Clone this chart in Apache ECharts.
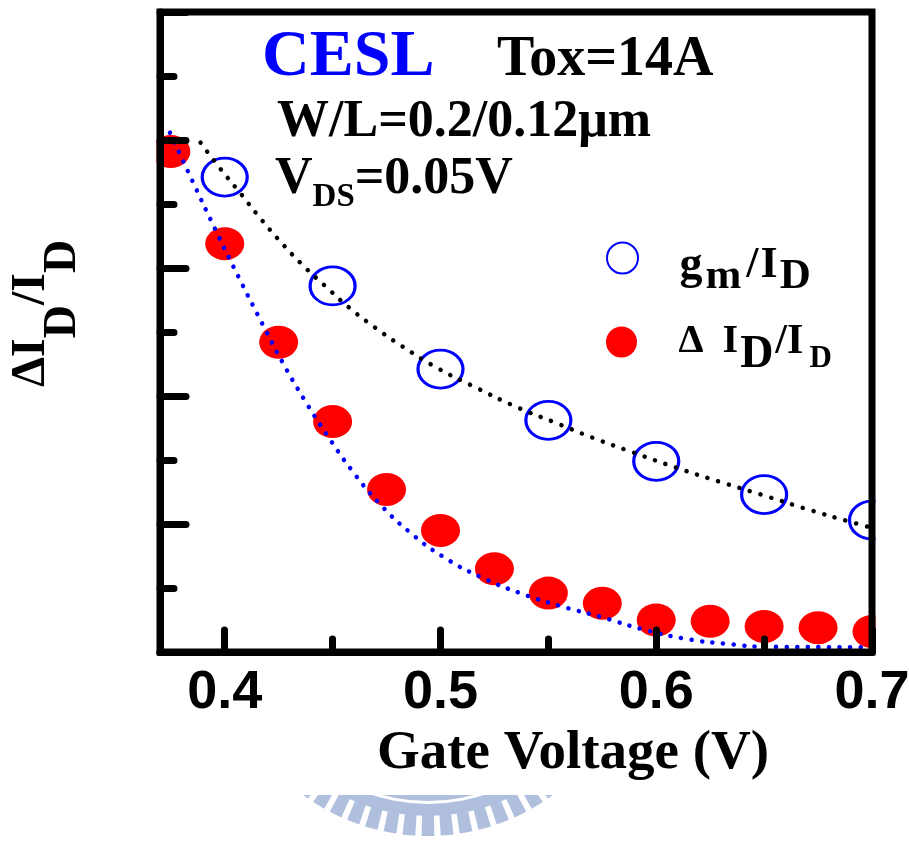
<!DOCTYPE html>
<html>
<head>
<meta charset="utf-8">
<script src="https://cdn.jsdelivr.net/npm/echarts@6/dist/echarts.min.js"></script>
<style>
html,body{margin:0;padding:0;background:#fff;}
#chart{width:909px;height:841px;}
</style>
</head>
<body>
<div id="chart"></div>
<script>
// ---- data ----
const vgOpen = [0.40, 0.45, 0.50, 0.55, 0.60, 0.65, 0.70];
const gmOverId = [3.71, 2.86, 2.21, 1.81, 1.49, 1.23, 1.03];

const vgFilled = [0.375, 0.400, 0.425, 0.450, 0.475, 0.500, 0.525, 0.550, 0.575, 0.600, 0.625, 0.650, 0.675, 0.700];
const dIdOverId = [3.91, 3.19, 2.42, 1.80, 1.27, 0.95, 0.65, 0.46, 0.38, 0.25, 0.24, 0.20, 0.19, 0.16];

// dotted fit curves
const blackFitX = [0.3888, 0.3978, 0.4070, 0.4163, 0.4260, 0.4361, 0.4469, 0.4583, 0.4700, 0.4820, 0.4988, 0.5162, 0.5342, 0.5524, 0.5706, 0.5891, 0.6132, 0.6326, 0.6512, 0.6707, 0.6893, 0.7000];
const blackFitY = [3.979, 3.779, 3.589, 3.393, 3.203, 3.023, 2.854, 2.682, 2.531, 2.391, 2.216, 2.068, 1.922, 1.797, 1.674, 1.560, 1.418, 1.313, 1.216, 1.112, 1.020, 0.970];
const blueFitX = [0.3746, 0.3851, 0.3956, 0.4064, 0.4177, 0.4268, 0.4368, 0.4475, 0.4588, 0.4714, 0.4856, 0.5016, 0.5189, 0.5371, 0.5561, 0.5750, 0.5938, 0.6134, 0.6330, 0.6524, 0.6918, 0.7000];
const blueFitY = [4.057, 3.677, 3.302, 2.930, 2.555, 2.263, 1.974, 1.693, 1.422, 1.166, 0.938, 0.740, 0.584, 0.459, 0.357, 0.271, 0.177, 0.104, 0.063, 0.041, 0.038, 0.038];

const xMajorTicks = [0.4, 0.5, 0.6, 0.7];
const xMinorTicks = [0.45, 0.55, 0.65];
const xRange = [0.37, 0.70];
const yRange = [0, 5];

const seriesNames = ['gm/ID', 'ΔID/ID'];
const xTitle = 'Gate Voltage (V)';

const SERIF = "'Times New Roman', 'Liberation Serif', serif";
const SANS = "'Liberation Sans', Arial, sans-serif";

const zip = (a, b) => a.map((v, i) => [v, b[i]]);

const chart = echarts.init(document.getElementById('chart'), null, {renderer: 'canvas'});

const bold = (size, extra) => Object.assign({fontSize: size, fontWeight: 'bold', fontFamily: SERIF, color: '#000'}, extra || {});
// rich token with a fixed 60px box; shift > 0 moves the glyphs down (subscript)
const tok = (size, shift, left) => {
  const s2 = Math.round(Math.abs(shift) * 2);
  return bold(size, {lineHeight: 60, height: 60 - s2,
    padding: shift >= 0 ? [s2, 0, 0, left || 0] : [0, 0, s2, left || 0]});
};

// grid box in pixels
const G = {left: 160, right: 37, top: 12, bottom: 189};
const W = 909, H = 841;

// faded logo watermark under the axis title (decoration)
const WM = '#b1bfdf';
const wmCx = 428, wmCy = 625;
const decorations = [
  {type: 'sector', z: -10, silent: true, shape: {cx: wmCx, cy: wmCy, r0: 160, r: 176, startAngle: Math.PI / 2 - 0.75, endAngle: Math.PI / 2 + 0.75}, style: {fill: WM}},
  {type: 'sector', z: -10, silent: true, shape: {cx: wmCx, cy: wmCy, r0: 179, r: 191, startAngle: Math.PI / 2 - 0.75, endAngle: Math.PI / 2 + 0.75}, style: {fill: WM}}
];
for (let k = -7; k <= 7; k++) {
  const a = Math.PI / 2 + k * 5.2 * Math.PI / 180;
  const hw = 1.75 * Math.PI / 180;
  decorations.push({type: 'sector', z: -10, silent: true,
    shape: {cx: wmCx, cy: wmCy, r0: 188, r: 211, startAngle: a - hw, endAngle: a + hw}, style: {fill: WM}});
}
decorations.push({type: 'rect', z: -9, silent: true, shape: {x: 250, y: 700, width: 360, height: 95}, style: {fill: '#fff'}});
// white masks so markers are cut at the frame, as in the reference
decorations.push({type: 'rect', z: 4, silent: true, shape: {x: 0, y: 0, width: G.left - 3.5, height: H - G.bottom + 6}, style: {fill: '#fff'}});
decorations.push({type: 'rect', z: 4, silent: true, shape: {x: W - G.right + 3.5, y: 0, width: G.right, height: H - G.bottom + 6}, style: {fill: '#fff'}});

const legendBase = (name, top, fmt, rich) => ({
  data: [name],
  orient: 'vertical',
  left: 606, top: top,
  padding: 0,
  itemWidth: 36, itemHeight: 31,
  symbolKeepAspect: false,
  selectedMode: false,
  formatter: () => fmt,
  textStyle: {padding: [0, 0, 0, 34], rich: rich}
});

const option = {
  animation: false,
  backgroundColor: '#fff',
  grid: {
    left: G.left, right: G.right, top: G.top, bottom: G.bottom,
    containLabel: false, outerBoundsMode: 'none', z: 10,
    show: true, borderColor: '#000', borderWidth: 7, backgroundColor: 'transparent'
  },
  xAxis: [
    {
      type: 'value', min: xRange[0], max: xRange[1], position: 'bottom', z: 10,
      axisLine: {show: true, onZero: false, lineStyle: {color: '#000', width: 7, cap: 'round'}},
      axisTick: {show: true, inside: true, length: 22, customValues: xMajorTicks, lineStyle: {color: '#000', width: 7, cap: 'round'}},
      axisLabel: {show: true, customValues: xMajorTicks, margin: 13, formatter: v => v.toFixed(1),
        fontSize: 54, fontWeight: 'bold', fontFamily: SANS, color: '#000', lineHeight: 56},
      splitLine: {show: false},
      name: xTitle, nameLocation: 'middle', nameGap: 66,
      nameTextStyle: {fontSize: 55, fontWeight: 'bold', fontFamily: SERIF, color: '#000', lineHeight: 54, padding: [0, 0, 0, 114]}
    },
    {
      type: 'value', min: xRange[0], max: xRange[1], position: 'bottom', z: 10,
      axisLine: {show: false},
      axisTick: {show: true, inside: true, length: 13, customValues: xMinorTicks, lineStyle: {color: '#000', width: 7, cap: 'round'}},
      axisLabel: {show: false},
      splitLine: {show: false}
    }
  ],
  yAxis: {
    type: 'value', min: yRange[0], max: yRange[1], interval: 1, z: 10,
    axisLine: {show: true, onZero: false, lineStyle: {color: '#000', width: 7, cap: 'round'}},
    axisTick: {show: true, inside: true, length: 26, lineStyle: {color: '#000', width: 7, cap: 'round'}},
    minorTick: {show: true, splitNumber: 2, length: 14, lineStyle: {color: '#000', width: 7, cap: 'round'}},
    axisLabel: {show: false},
    splitLine: {show: false},
    name: '{m|ΔI}{s|D}{m|/I}{s|D}',
    nameLocation: 'middle', nameGap: 93,
    nameTextStyle: {
      padding: [0, 0, 0, 37],
      rich: {
        m: bold(48, {lineHeight: 70}),
        s: bold(46, {lineHeight: 70, padding: [62, 0, 0, 0]})
      }
    }
  },
  legend: [
    legendBase(seriesNames[0], 228, '{g1|g}{m1|m}{s1|/}{i1|I}{d1|D}', {
      g1: tok(46, 8, 0),
      m1: tok(43, 19, 3),
      s1: tok(44, 8, 5),
      i1: tok(44, 8, 2),
      d1: tok(43, 19, 2)
    }),
    legendBase(seriesNames[1], 312, '{d2|Δ}{i2|I}{b2|D}{s2|/}{j2|I}{c2|D}', {
      d2: tok(40, 0, 0),
      i2: tok(40, 0, 19),
      b2: tok(46, 13, 2),
      s2: tok(42, 0, 2),
      j2: tok(42, 0, 0),
      c2: tok(31, 17, 6)
    })
  ],
  graphic: [
    {type: 'text', x: 262, y: 58, style: {text: 'CESL', align: 'left', verticalAlign: 'middle',
      fontSize: 66, fontWeight: 'bold', fontFamily: SERIF, fill: '#0000ff'}},
    {type: 'text', x: 497, y: 61, style: {text: 'Tox=14A', align: 'left', verticalAlign: 'middle',
      fontSize: 56, fontWeight: 'bold', fontFamily: SERIF, fill: '#000'}},
    {type: 'text', x: 277, y: 123, style: {text: 'W/L=0.2/0.12μm', align: 'left', verticalAlign: 'middle',
      fontSize: 52, fontWeight: 'bold', fontFamily: SERIF, fill: '#000'}},
    {type: 'text', x: 275, y: 180, style: {text: '{n|V}{s|DS}{n|=0.05V}', align: 'left', verticalAlign: 'middle',
      rich: {
        n: {fontSize: 52, fontWeight: 'bold', fontFamily: SERIF, fill: '#000', lineHeight: 60},
        s: {fontSize: 33, fontWeight: 'bold', fontFamily: SERIF, fill: '#000', lineHeight: 60, padding: [34, 0, 0, 0]}
      }}}
  ].concat(decorations),
  series: [
    {
      name: seriesNames[0], type: 'scatter', xAxisIndex: 0,
      data: zip(vgOpen, gmOverId),
      symbol: 'circle', symbolSize: [45, 38],
      itemStyle: {color: 'rgba(255,255,255,0)', borderColor: '#0000ff', borderWidth: 3, opacity: 1},
      z: 2, silent: true
    },
    {
      name: seriesNames[1], type: 'scatter', xAxisIndex: 0,
      data: zip(vgFilled, dIdOverId),
      symbol: 'circle', symbolSize: [39, 33],
      itemStyle: {color: '#ff0000', borderWidth: 0, opacity: 1},
      z: 2, silent: true
    },
    {
      name: 'gm fit', type: 'line', xAxisIndex: 0,
      data: zip(blackFitX, blackFitY),
      showSymbol: false, smooth: true,
      lineStyle: {color: '#000', width: 4.5, type: [0.1, 11], cap: 'round'},
      z: 3, silent: true
    },
    {
      name: 'dID fit', type: 'line', xAxisIndex: 0,
      data: zip(blueFitX, blueFitY),
      showSymbol: false, smooth: true,
      lineStyle: {color: '#0000ff', width: 4.5, type: [0.1, 10.5], cap: 'round'},
      z: 3, silent: true
    }
  ]
};

chart.setOption(option);
</script>
</body>
</html>
